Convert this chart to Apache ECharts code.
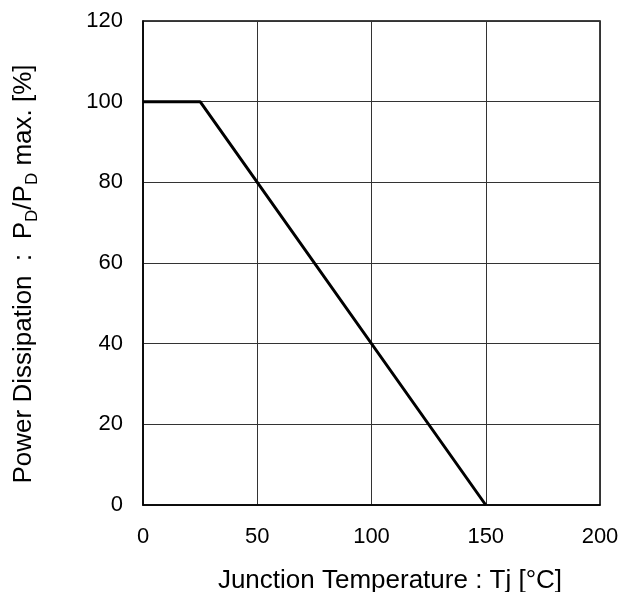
<!DOCTYPE html>
<html>
<head>
<meta charset="utf-8">
<script src="https://cdn.jsdelivr.net/npm/echarts@6/dist/echarts.min.js"></script>
<style>html,body{margin:0;padding:0;background:#fff}#c{width:629px;height:592px}</style>
</head>
<body>
<div id="c"></div>
<script>
var tempC = [0, 25, 150];
var powerPct = [100, 100, 0];
var xTicks = [0, 50, 100, 150, 200];
var yTicks = [0, 20, 40, 60, 80, 100, 120];

var chart = echarts.init(document.getElementById('c'), null, {renderer: 'canvas'});
var font = 'Liberation Sans, Arial, sans-serif';
chart.setOption({
  animation: false,
  backgroundColor: '#fff',
  grid: {left: 143, right: 29, top: 21, bottom: 87, show: true, borderColor: '#000', borderWidth: 1.5, backgroundColor: 'transparent', containLabel: false, outerBoundsMode: 'none'},
  xAxis: {
    type: 'value', min: xTicks[0], max: xTicks[xTicks.length - 1], interval: 50,
    name: 'Junction Temperature : Tj [°C]', nameLocation: 'middle', nameGap: 63,
    nameTextStyle: {fontFamily: font, fontSize: 26, color: '#000', padding: [0, 0, 0, 37]},
    axisLine: {show: true, lineStyle: {color: '#000', width: 1.5}},
    axisTick: {show: false},
    axisLabel: {fontFamily: font, fontSize: 22, color: '#000', margin: 21},
    splitLine: {show: true, lineStyle: {color: '#333', width: 1}}
  },
  yAxis: {
    type: 'value', min: yTicks[0], max: yTicks[yTicks.length - 1], interval: 20,
    name: '{n|Power Dissipation  :  P}{s|D}{n|/P}{s|D}{n| max. [%]}', nameLocation: 'middle', nameGap: 104,
    nameTextStyle: {fontFamily: font, fontSize: 26, color: '#000', padding: [0, 22, 0, 0],
      rich: {
        n: {fontFamily: font, fontSize: 26, color: '#000', lineHeight: 30, verticalAlign: 'middle'},
        s: {fontFamily: font, fontSize: 17, color: '#000', lineHeight: 30, verticalAlign: 'bottom', padding: [0, 0, -2, 0]}
      }},
    axisLine: {show: true, lineStyle: {color: '#000', width: 1.5}},
    axisTick: {show: false},
    axisLabel: {fontFamily: font, fontSize: 22, color: '#000', margin: 20},
    splitLine: {show: true, lineStyle: {color: '#333', width: 1}}
  },
  series: [{
    type: 'line',
    data: tempC.map(function (t, i) { return [t, powerPct[i]]; }),
    symbol: 'none',
    lineStyle: {color: '#000', width: 3},
    z: 5
  }]
});
</script>
</body>
</html>
